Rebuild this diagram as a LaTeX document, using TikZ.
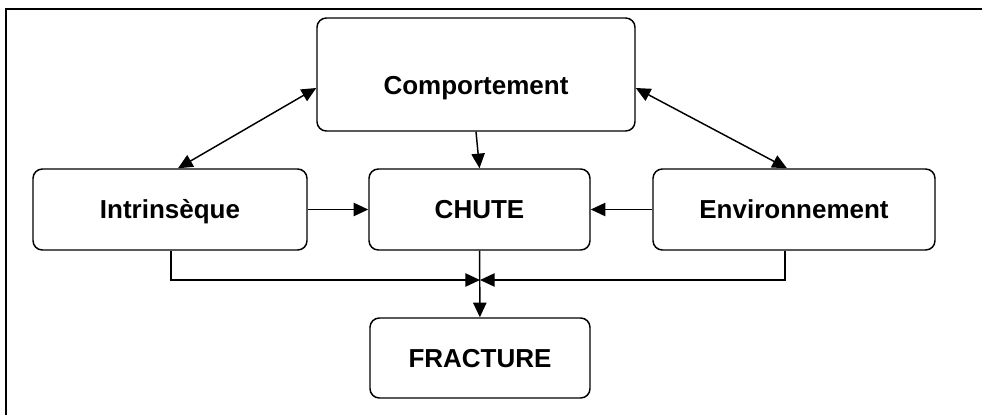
\documentclass[tikz,border=0pt]{standalone}
\usepackage{fontspec}
\setmainfont{Liberation Sans}
\usepackage{xcolor}
\usepackage{tikz}
\usetikzlibrary{arrows.meta, calc, positioning}

\begin{document}
\begin{tikzpicture}[x=0.75pt, y=-0.75pt,
        box/.style={draw, line width=1.1pt, rounded corners=7pt, text height=14pt, text depth=0pt,
            font=\fontsize{19.5}{23}\selectfont\bfseries},
        >={Triangle[length=11pt, width=10pt]}, line width=1.1pt]

        \useasboundingbox (0,0) rectangle (982,415);
        \draw[line width=1.8pt] (6,415) -- (6,9) -- (982,9);

        \node[box, minimum width=238.5pt, minimum height=84.75pt, text height=30pt] (comp) at (476,74.5) {Comportement};
        \node[box, minimum width=205.5pt, minimum height=60.75pt] (intr) at (170,209.5) {Intrinsèque};
        \node[box, minimum width=165.75pt, minimum height=60.75pt] (chute) at (479.5,209.5) {CHUTE};
        \node[box, minimum width=211.5pt, minimum height=60.75pt] (env) at (794,209.5) {Environnement};
        \node[box, minimum width=165pt, minimum height=60pt] (frac) at (480,358) {FRACTURE};
        \coordinate (merge) at (480,280);

        \path[->]
        (intr) edge (chute)
        (env) edge (chute)
        (chute) edge (frac)
        (comp.south) edge (chute.north);
        \draw[<->] ($(comp.west)+(0,13.5)$) -- ($(intr.north)+(8,0)$);
        \draw[<->] ($(comp.east)+(0,13.5)$) -- ($(env.north)+(-7,0)$);
        \draw[->] ($(intr.south)+(1,0)$) |- (merge);
        \draw[->] ($(env.south)+(-9,0)$) |- (merge);
\end{tikzpicture}
\end{document}
